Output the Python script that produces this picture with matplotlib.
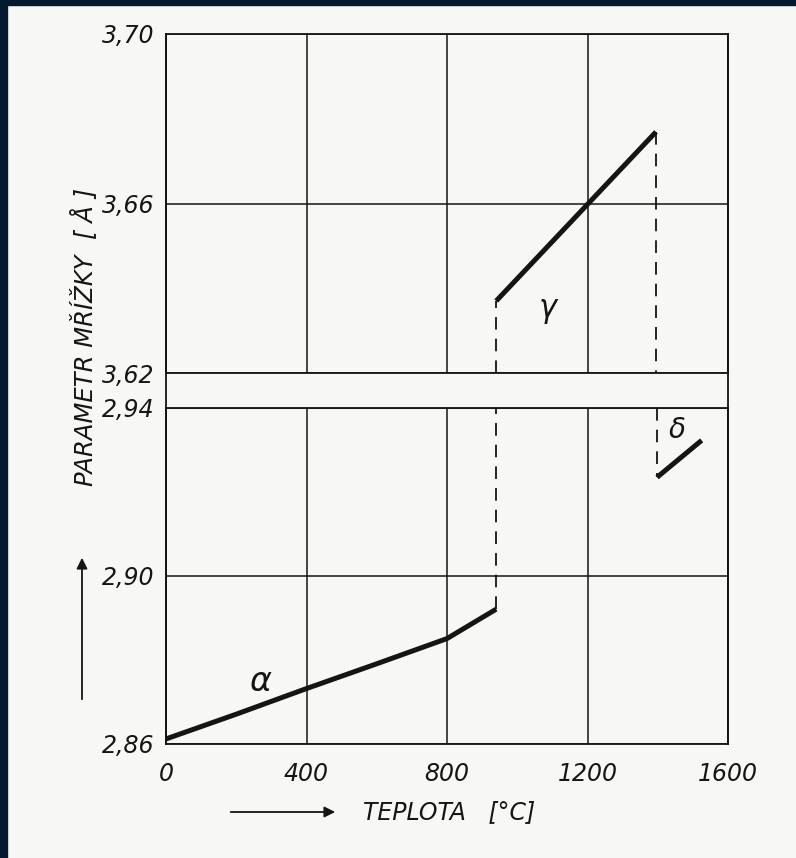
import numpy as np
import matplotlib
matplotlib.use('agg')
import matplotlib.pyplot as plt
from matplotlib.patches import Rectangle

# lattice parameter of iron vs temperature
alpha_t = [0, 200, 400, 600, 800, 940]
alpha_a = [2.8612, 2.8671, 2.8732, 2.8791, 2.8851, 2.8921]
gamma_t = [940, 1395]
gamma_a = [3.6370, 3.6769]
delta_t = [1398, 1525]
delta_a = [2.9235, 2.9323]

x_ticks = [0, 400, 800, 1200, 1600]
top_ticks = [3.62, 3.66, 3.70]
bot_ticks = [2.86, 2.90, 2.94]

W, H = 796, 858
PAPER = '#f7f7f5'
INK = '#151515'
FONT = {'family': 'DejaVu Sans', 'style': 'italic'}


def fx(px):
    return px / W


def fy(py):
    return 1 - py / H


fig = plt.figure(figsize=(W / 100, H / 100), dpi=100, facecolor=PAPER)

left, right = fx(166), fx(728)
ax_top = fig.add_axes([left, fy(373), right - left, fy(34) - fy(373)])
ax_bot = fig.add_axes([left, fy(744), right - left, fy(408) - fy(744)])

# frame axes only to carry the left/right borders through the gap
frame = fig.add_axes([left, fy(744), right - left, fy(34) - fy(744)], zorder=-1)
frame.set_facecolor('none')
frame.set_xticks([])
frame.set_yticks([])
for s in ('top', 'bottom'):
    frame.spines[s].set_visible(False)
for s in ('left', 'right'):
    frame.spines[s].set_color(INK)
    frame.spines[s].set_linewidth(1.3)

for ax, ticks in ((ax_top, top_ticks), (ax_bot, bot_ticks)):
    ax.set_facecolor('none')
    ax.set_xlim(0, 1600)
    ax.set_ylim(ticks[0], ticks[-1])
    ax.set_xticks(x_ticks)
    ax.set_yticks(ticks)
    ax.set_yticklabels([('%.2f' % t).replace('.', ',') for t in ticks],
                       fontdict=FONT, fontsize=17)
    ax.tick_params(length=0, pad=8, colors=INK)
    ax.grid(True, color=INK, linewidth=1.1)
    for s in ax.spines.values():
        s.set_color(INK)
        s.set_linewidth(1.3)

ax_top.set_xticklabels([])
ax_bot.set_xticklabels([str(t) for t in x_ticks], fontdict=FONT, fontsize=17)
ax_bot.tick_params(axis='x', pad=13)

# phase curves
ax_bot.plot(alpha_t, alpha_a, color=INK, lw=3.6, solid_capstyle='butt', zorder=5)
ax_top.plot(gamma_t, gamma_a, color=INK, lw=3.6, solid_capstyle='butt', zorder=5)
ax_bot.plot(delta_t, delta_a, color=INK, lw=3.6, solid_capstyle='butt', zorder=5)

# transitions
dash = dict(color=INK, lw=1.3, dashes=(7, 5), zorder=4)
ax_bot.plot([alpha_t[-1], alpha_t[-1]], [alpha_a[-1], bot_ticks[-1]], **dash)
ax_top.plot([gamma_t[0], gamma_t[0]], [top_ticks[0], gamma_a[0]], **dash)
ax_top.plot([gamma_t[-1], gamma_t[-1]], [gamma_a[-1], top_ticks[0]], **dash)
ax_bot.plot([delta_t[0], delta_t[0]], [bot_ticks[-1], delta_a[0]], **dash)

ax_bot.text(268, 2.8749, 'α', fontdict=FONT, fontsize=24, ha='center', va='center', color=INK)
ax_top.text(1087, 3.6349, 'γ', fontdict=FONT, fontsize=22, ha='center', va='center', color=INK)
ax_bot.text(1456, 2.9347, 'δ', fontdict=FONT, fontsize=20, ha='center', va='center', color=INK)

# axis titles with arrows
fig.text(fx(449), fy(812), 'TEPLOTA   [°C]', fontdict=FONT, fontsize=17,
         ha='center', va='center', color=INK)
fig.text(fx(84), fy(337), 'PARAMETR MŘÍŽKY  [ Å ]', fontdict=FONT, fontsize=17.5,
         rotation=90, ha='center', va='center', color=INK)

arrow = dict(arrowstyle='-|>', color=INK, lw=1.3, mutation_scale=16)
fig.add_artist(matplotlib.patches.FancyArrowPatch(
    (fx(228), fy(812)), (fx(338), fy(812)), transform=fig.transFigure, **arrow))
fig.add_artist(matplotlib.patches.FancyArrowPatch(
    (fx(82), fy(702)), (fx(82), fy(555)), transform=fig.transFigure, **arrow))

# dark scan border on top and left
fig.add_artist(Rectangle((0, fy(5)), 1, 5 / H, transform=fig.transFigure,
                         color='#04182f', zorder=10))
fig.add_artist(Rectangle((0, 0), 7 / W, 1, transform=fig.transFigure,
                         color='#04182f', zorder=10))

plt.savefig('out.png', dpi=100, facecolor=PAPER)
plt.close()
